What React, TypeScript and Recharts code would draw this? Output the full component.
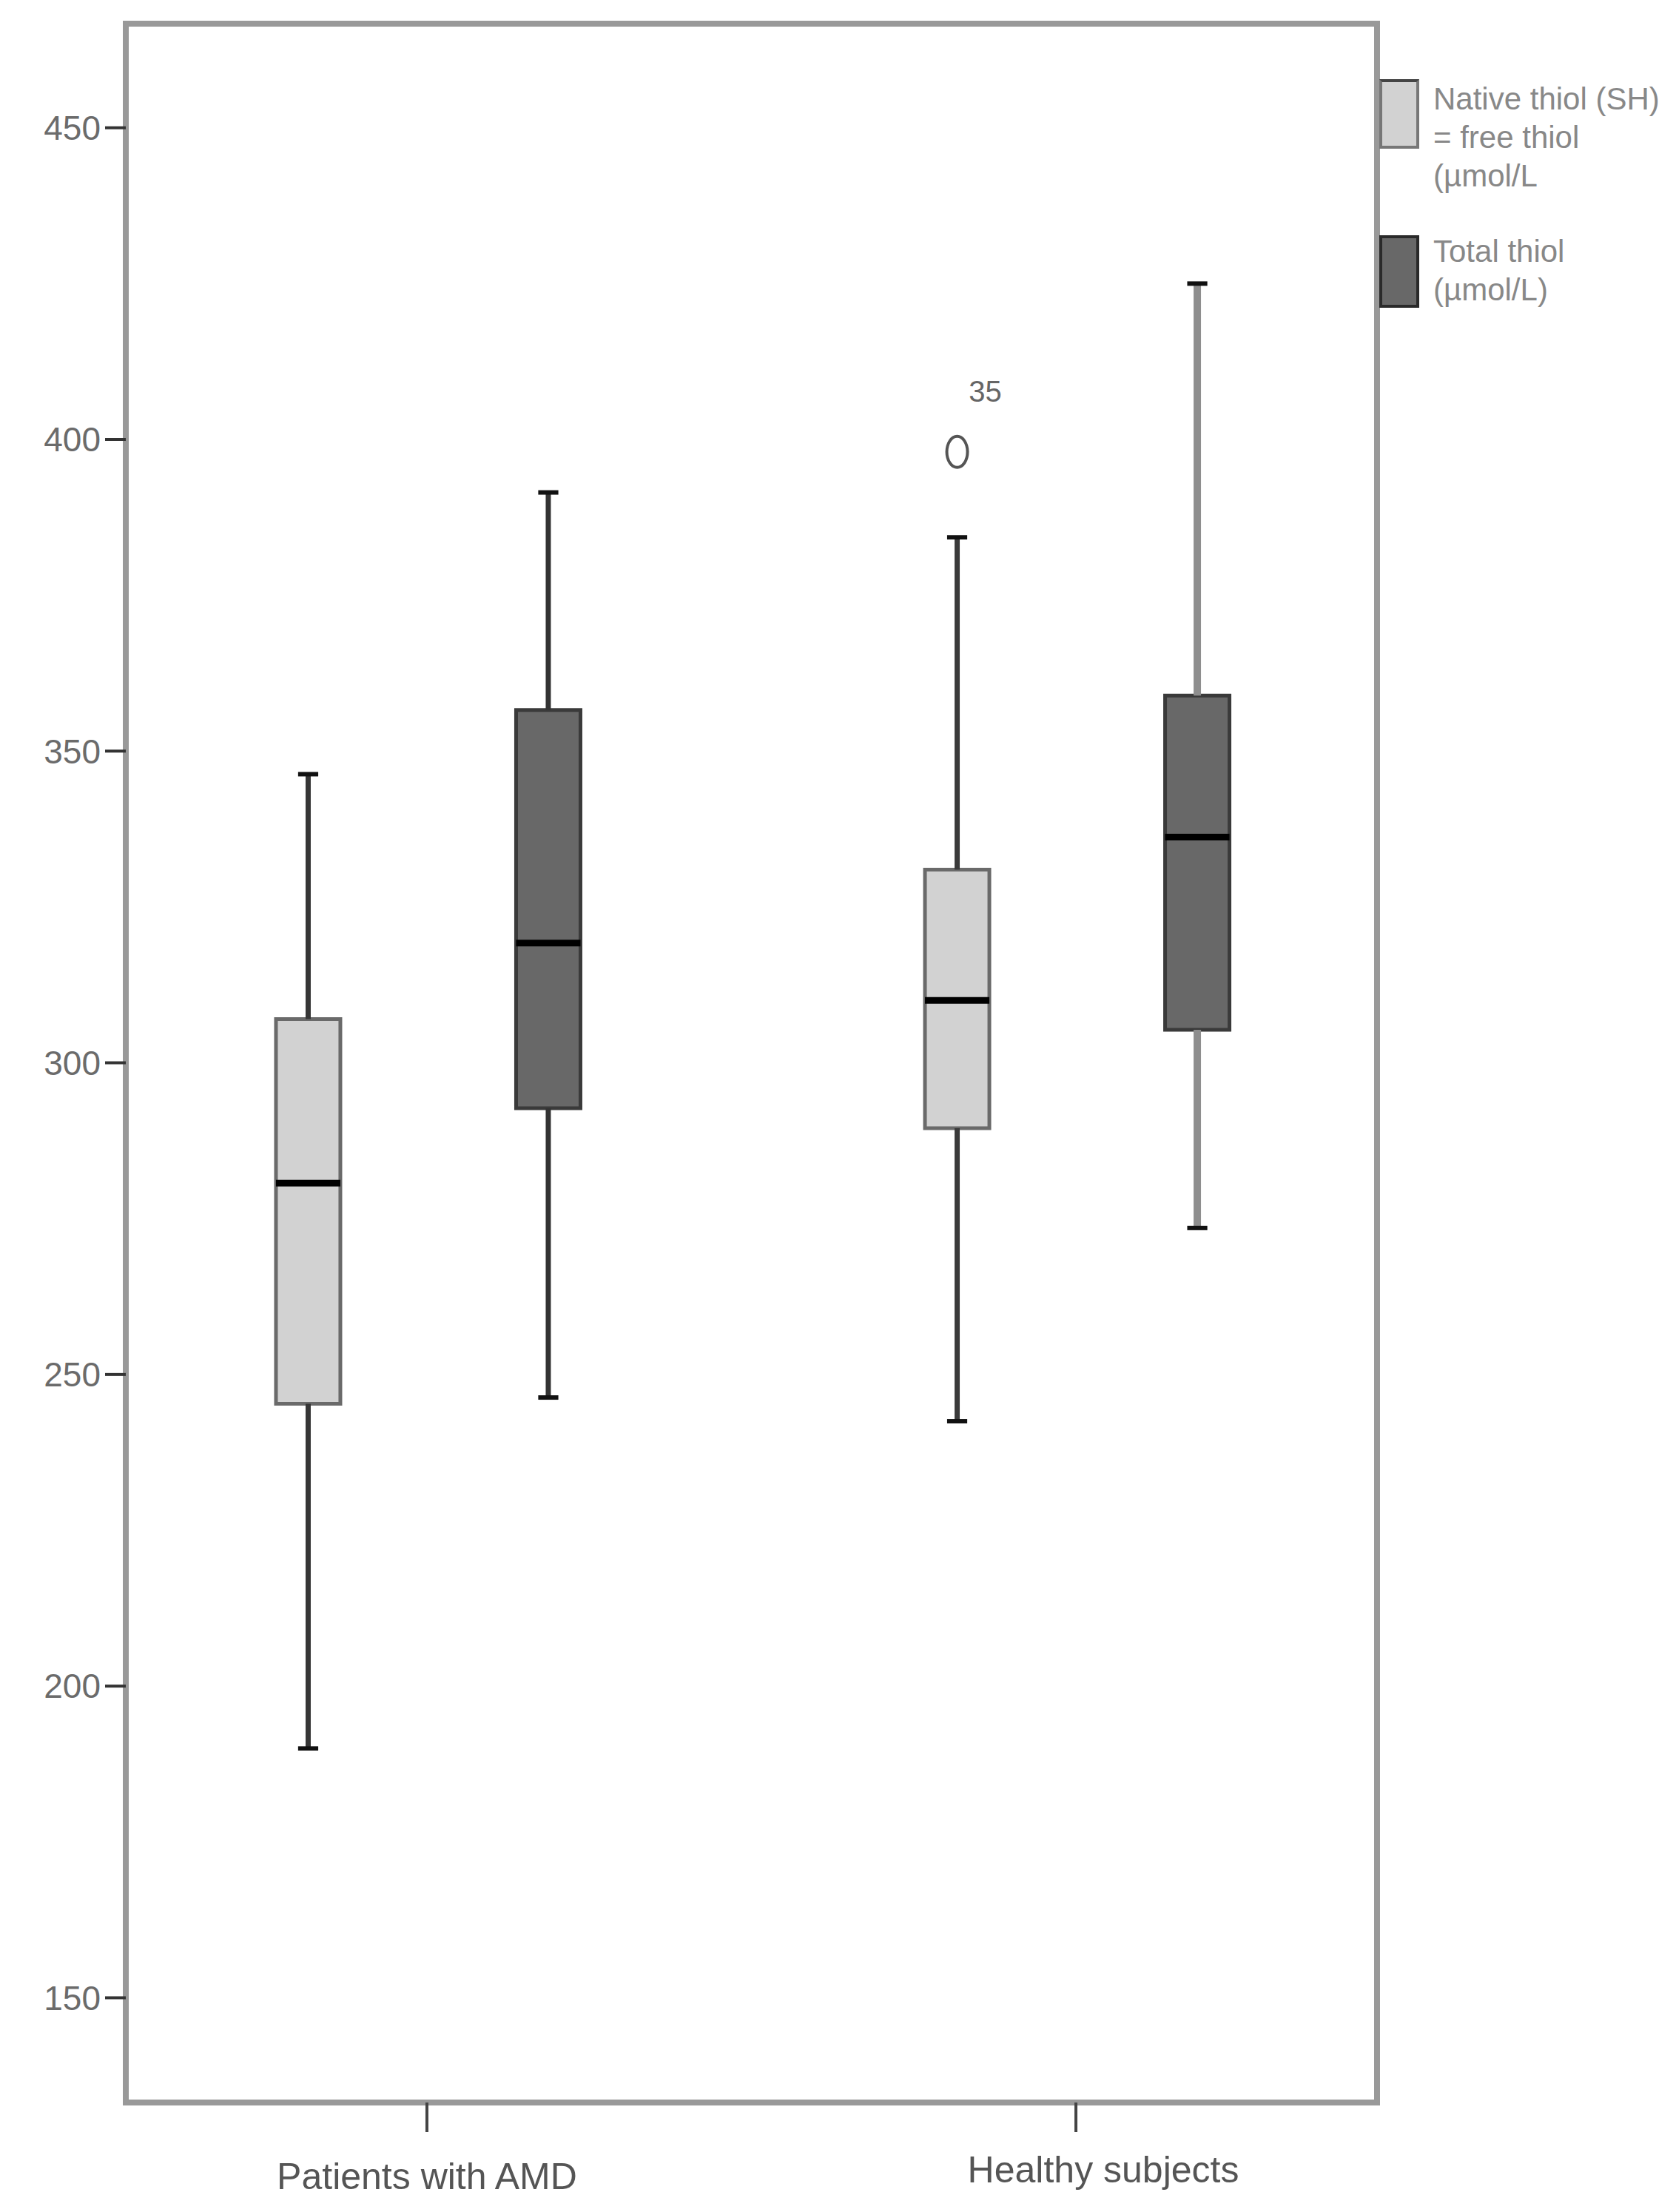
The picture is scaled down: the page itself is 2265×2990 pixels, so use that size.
import React from 'react';
import {
  ComposedChart,
  XAxis,
  YAxis,
  ReferenceArea,
  ReferenceLine,
  Scatter,
} from 'recharts';

// categories and box statistics
const categories = ['Patients with AMD', 'Healthy subjects'];
const seriesNames = ['Native thiol (SH) = free thiol (µmol/L', 'Total thiol (µmol/L)'];

const nativeMin = [190, 242.5];
const nativeQ1 = [245.3, 289.5];
const nativeMedian = [280.7, 310];
const nativeQ3 = [307, 331];
const nativeMax = [346.3, 384.3];

const totalMin = [246.3, 273.5];
const totalQ1 = [292.7, 305.3];
const totalMedian = [319.2, 336.2];
const totalQ3 = [356.6, 358.9];
const totalMax = [391.5, 425];

const outliers = [{ category: 1, series: 0, value: 398, label: '35' }];

const yTicks = [150, 200, 250, 300, 350, 400, 450];
const legendLines = [
  ['Native thiol (SH)', '= free thiol', '(µmol/L'],
  ['Total thiol', '(µmol/L)'],
];

const Y_DOMAIN: [number, number] = [133.2, 466.7];
const X_DOMAIN: [number, number] = [-0.464, 1.464];
const OFFSETS = [-0.183, 0.187];
const HALF_BOX = 0.0496;
const HALF_CAP = 0.0155;
const FONT = '"Liberation Sans", Arial, sans-serif';

const styles = [
  { fill: '#d2d2d2', stroke: '#6a6a6a', whisker: ['#363636', '#3a3a3a'], whiskerWidth: [7, 7] },
  { fill: '#686868', stroke: '#3a3a3a', whisker: ['#333333', '#8e8e8e'], whiskerWidth: [7, 10] },
];

const stats = [
  { min: nativeMin, q1: nativeQ1, med: nativeMedian, q3: nativeQ3, max: nativeMax },
  { min: totalMin, q1: totalQ1, med: totalMedian, q3: totalQ3, max: totalMax },
];

const outlierData = outliers.map((o) => ({
  x: o.category + OFFSETS[o.series],
  y: o.value,
  label: o.label,
}));

const CategoryTick = (props: any) => {
  const { x, y, payload, index } = props;
  const dx = index === 1 ? 37 : 0;
  const dy = index === 1 ? -9 : 0;
  return (
    <text
      x={x + dx}
      y={y + dy}
      dy="0.71em"
      textAnchor="middle"
      fill="#555"
      fontSize={50}
      fontFamily={FONT}
    >
      {categories[payload.value]}
    </text>
  );
};

const OutlierShape = (props: any) => {
  const { cx, cy, payload } = props;
  return (
    <g>
      <ellipse cx={cx} cy={cy} rx={14} ry={21} fill="none" stroke="#555" strokeWidth={4} />
      <text x={cx + 38} y={cy - 68} textAnchor="middle" fill="#666" fontSize={40} fontFamily={FONT}>
        {payload.label}
      </text>
    </g>
  );
};

const App: React.FC = () => {
  const whiskers: React.ReactNode[] = [];
  const boxes: React.ReactNode[] = [];
  const medians: React.ReactNode[] = [];

  categories.forEach((_, ci) => {
    stats.forEach((s, si) => {
      const cx = ci + OFFSETS[si];
      const st = styles[si];
      const wc = st.whisker[ci];
      const ww = st.whiskerWidth[ci];
      whiskers.push(
        <ReferenceLine key={`wu-${ci}-${si}`} segment={[{ x: cx, y: s.q3[ci] }, { x: cx, y: s.max[ci] }]} stroke={wc} strokeWidth={ww} />,
        <ReferenceLine key={`wl-${ci}-${si}`} segment={[{ x: cx, y: s.q1[ci] }, { x: cx, y: s.min[ci] }]} stroke={wc} strokeWidth={ww} />,
        <ReferenceLine key={`cu-${ci}-${si}`} segment={[{ x: cx - HALF_CAP, y: s.max[ci] }, { x: cx + HALF_CAP, y: s.max[ci] }]} stroke="#111" strokeWidth={6} />,
        <ReferenceLine key={`cl-${ci}-${si}`} segment={[{ x: cx - HALF_CAP, y: s.min[ci] }, { x: cx + HALF_CAP, y: s.min[ci] }]} stroke="#111" strokeWidth={6} />
      );
      boxes.push(
        <ReferenceArea
          key={`b-${ci}-${si}`}
          x1={cx - HALF_BOX}
          x2={cx + HALF_BOX}
          y1={s.q1[ci]}
          y2={s.q3[ci]}
          fill={st.fill}
          fillOpacity={1}
          stroke={st.stroke}
          strokeWidth={5}
        />
      );
      medians.push(
        <ReferenceLine key={`m-${ci}-${si}`} segment={[{ x: cx - HALF_BOX, y: s.med[ci] }, { x: cx + HALF_BOX, y: s.med[ci] }]} stroke="#000" strokeWidth={9} />
      );
    });
  });

  return (
    <div style={{ position: 'absolute', left: 0, top: 0, width: 2265, height: 2990, background: '#fff' }}>
      <ComposedChart
        width={2265}
        height={2990}
        margin={{ top: 32, right: 404, bottom: 48, left: 0 }}
      >
        <XAxis
          type="number"
          dataKey="x"
          domain={X_DOMAIN}
          ticks={[0, 1]}
          allowDataOverflow
          axisLine={false}
          tickSize={40}
          tickMargin={41}
          tickLine={{ stroke: '#444', strokeWidth: 4 }}
          tick={<CategoryTick />}
          height={100}
        />
        <YAxis
          type="number"
          dataKey="y"
          domain={Y_DOMAIN}
          ticks={yTicks}
          allowDataOverflow
          width={170}
          axisLine={false}
          tickSize={28}
          tickMargin={6}
          tickLine={{ stroke: '#333', strokeWidth: 4 }}
          tick={{ fill: '#6b6b6b', fontSize: 46, fontFamily: FONT }}
        />
        <ReferenceArea
          x1={X_DOMAIN[0]}
          x2={X_DOMAIN[1]}
          y1={Y_DOMAIN[0]}
          y2={Y_DOMAIN[1]}
          fill="none"
          stroke="#999"
          strokeWidth={8}
          ifOverflow="visible"
        />
        {whiskers}
        {boxes}
        {medians}
        <Scatter data={outlierData} dataKey="y" isAnimationActive={false} shape={<OutlierShape />} />
      </ComposedChart>
      <div style={{ position: 'absolute', left: 1864, top: 108, fontFamily: FONT, color: '#888', fontSize: 42, lineHeight: '52px' }}>
        {seriesNames.map((name, i) => (
          <div key={name} title={name} style={{ position: 'relative', height: i === 0 ? 206 : 120 }}>
            <div
              style={{
                position: 'absolute',
                left: 0,
                top: i === 0 ? -1 : 4,
                width: 46,
                height: i === 0 ? 86 : 90,
                background: styles[i].fill,
                border: `4px solid ${i === 0 ? '#777' : '#2a2a2a'}`,
                borderTopColor: i === 0 ? '#444' : '#2a2a2a',
              }}
            />
            <div style={{ position: 'absolute', left: 73, top: 0, whiteSpace: 'nowrap' }}>
              {legendLines[i].map((l) => (
                <div key={l}>{l}</div>
              ))}
            </div>
          </div>
        ))}
      </div>
    </div>
  );
};

export default App;
